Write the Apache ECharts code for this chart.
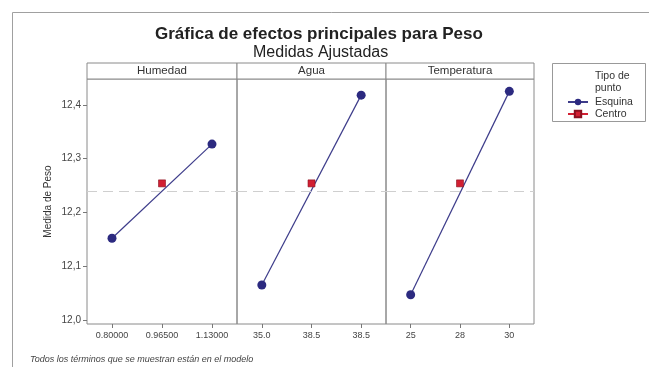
<!DOCTYPE html>
<html>
<head>
<meta charset="utf-8">
<script src="https://cdn.jsdelivr.net/npm/echarts@6/dist/echarts.min.js"></script>
<style>
html,body{margin:0;padding:0;background:#fff;}
#chart{width:649px;height:367px;}
</style>
</head>
<body>
<div id="chart"></div>
<script>
// ---- data ----
const panelNames = ['Humedad', 'Agua', 'Temperatura'];
const catHumedad = ['0.80000', '0.96500', '1.13000'];
const catAgua = ['35.0', '38.5', '38.5'];
const catTemperatura = ['25', '28', '30'];
const esquinaHumedad = [12.152, 12.327];
const esquinaAgua = [12.065, 12.418];
const esquinaTemperatura = [12.047, 12.425];
const centroValues = [12.254, 12.254, 12.254];
const meanValue = 12.24;
const yTickValues = [12.0, 12.1, 12.2, 12.3, 12.4];

// ---- layout ----
const panels = [
  { left: 87, width: 150 },
  { left: 237, width: 149 },
  { left: 386, width: 148 }
];
const gridTop = 79, gridHeight = 245;
const yMin = 11.9926, yMax = 12.448;
const cats = [catHumedad, catAgua, catTemperatura];
const esq = [esquinaHumedad, esquinaAgua, esquinaTemperatura];
const navy = '#2c2a80';
const red = '#d21f32';
const font = 'Liberation Sans, Arial, sans-serif';

const grids = [], xAxes = [], yAxes = [], series = [], graphics = [];
panels.forEach((p, i) => {
  grids.push({ left: p.left, top: gridTop, width: p.width, height: gridHeight,
    show: true, borderColor: '#8a8a8a', borderWidth: 1, backgroundColor: 'transparent' });
  xAxes.push({
    type: 'category', gridIndex: i, data: cats[i], boundaryGap: true,
    axisLine: { show: false },
    axisTick: { show: true, alignWithLabel: true, length: 4, lineStyle: { color: '#777' } },
    axisLabel: { color: '#444', fontSize: 9, fontFamily: font, margin: 7, interval: 0 },
    splitLine: { show: false }
  });
  yAxes.push({
    type: 'value', gridIndex: i, min: yMin, max: yMax,
    name: i === 0 ? 'Medida de Peso' : '',
    nameLocation: 'middle', nameGap: 34, nameRotate: 90,
    nameTextStyle: { color: '#333', fontSize: 10, fontFamily: font },
    axisLine: { show: false },
    axisTick: { show: i === 0, length: 4, lineStyle: { color: '#777' }, customValues: yTickValues },
    axisLabel: { show: i === 0, color: '#444', fontSize: 10, fontFamily: font, margin: 6,
      customValues: yTickValues,
      formatter: v => v.toFixed(1).replace('.', ',') },
    splitLine: { show: false }
  });
  series.push({
    name: 'Esquina', type: 'line', xAxisIndex: i, yAxisIndex: i,
    data: [[0, esq[i][0]], [2, esq[i][1]]],
    symbol: 'circle', symbolSize: 9,
    itemStyle: { color: navy },
    lineStyle: { color: '#3d3c8a', width: 1.2 },
    z: 3,
    markLine: {
      silent: true, symbol: 'none', label: { show: false },
      lineStyle: { color: '#cfcfcf', type: [10, 6], width: 1.2 },
      data: [{ yAxis: meanValue }]
    }
  });
  series.push({
    name: 'Centro', type: 'line', xAxisIndex: i, yAxisIndex: i,
    data: [[1, centroValues[i]]],
    symbol: 'rect', symbolSize: 7,
    itemStyle: { color: red, borderColor: '#8a1020', borderWidth: 0.6 },
    lineStyle: { color: red, width: 1.2 },
    z: 4
  });
  graphics.push({
    type: 'rect', shape: { x: p.left, y: 63, width: p.width, height: 16 },
    style: { fill: '#fff', stroke: '#8a8a8a', lineWidth: 1 }
  });
  graphics.push({
    type: 'text', x: p.left + p.width / 2, y: 71,
    style: { text: panelNames[i], fill: '#333', font: '11.5px ' + font, textAlign: 'center', textVerticalAlign: 'middle' }
  });
});

// outer frame
graphics.push({ type: 'rect', shape: { x: 12.5, y: 12.5, width: 700, height: 400 },
  style: { fill: 'none', stroke: '#a0a0a0', lineWidth: 1 }, z: -1 });
// legend box
graphics.push({ type: 'rect', shape: { x: 552.5, y: 63.5, width: 93, height: 58 },
  style: { fill: '#fff', stroke: '#999', lineWidth: 1 }, z: -1 });
graphics.push({ type: 'text', x: 595, y: 69.5,
  style: { text: 'Tipo de\npunto', fill: '#333', font: '10.5px ' + font, lineHeight: 12.5 } });
// footnote
graphics.push({ type: 'text', x: 30, y: 355,
  style: { text: 'Todos los términos que se muestran están en el modelo', fill: '#444', font: 'italic 9px ' + font } });

const chart = echarts.init(document.getElementById('chart'), null, { renderer: 'canvas' });
chart.setOption({
  backgroundColor: '#fff',
  animation: false,
  title: [
    { text: 'Gráfica de efectos principales para Peso', left: 150, top: 21,
      textStyle: { fontSize: 17, fontWeight: 'bold', color: '#222', fontFamily: font } },
    { text: 'Medidas Ajustadas', left: 248, top: 40,
      textStyle: { fontSize: 16, fontWeight: 'normal', color: '#222', fontFamily: font } }
  ],
  legend: {
    data: ['Esquina', 'Centro'], orient: 'vertical', left: 562, top: 91,
    itemWidth: 20, itemHeight: 8, itemGap: 0,
    textStyle: { color: '#333', fontSize: 10.5, fontFamily: font, lineHeight: 12, padding: [0, 0, 0, 2] }
  },
  grid: grids, xAxis: xAxes, yAxis: yAxes, series: series, graphic: graphics
});
</script>
</body>
</html>
